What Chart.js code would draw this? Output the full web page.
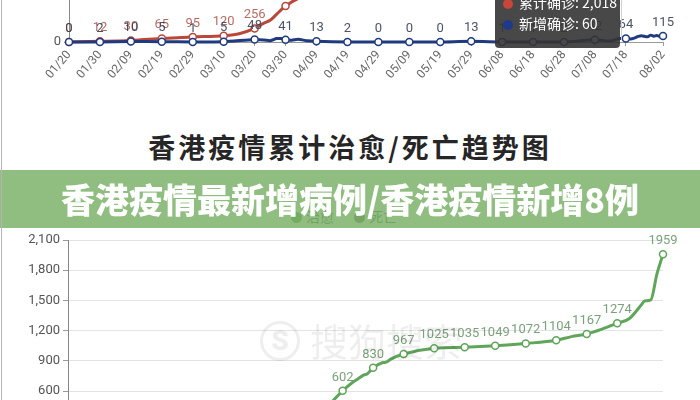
<!DOCTYPE html>
<html><head><meta charset="utf-8">
<script src="https://cdn.jsdelivr.net/npm/chart.js@4.4.1/dist/chart.umd.min.js"></script>
<style>
html,body{margin:0;padding:0;width:700px;height:400px;overflow:hidden;background:#fff;font-family:Roboto,"Noto Sans CJK SC",sans-serif;}
#wrap{position:relative;width:700px;height:400px;overflow:hidden;background:#fff;}
#leftline{position:absolute;left:1px;top:0;width:1px;height:400px;background:#b5b5b5;z-index:5;}
#topBox{position:absolute;left:0;top:-198px;width:700px;height:300px;}
#botBox{position:absolute;left:0;top:200px;width:700px;height:330px;}
#title{position:absolute;left:0;width:700px;top:127px;text-align:center;font-family:"Noto Sans CJK SC";font-weight:700;font-size:27px;letter-spacing:3px;color:#262626;line-height:40px;}
#legend{position:absolute;top:207px;left:0;width:700px;height:20px;font-family:"Noto Sans CJK SC";font-size:14px;color:#666;}
.lg{position:absolute;top:0;line-height:18px;}
.dot{display:inline-block;width:11px;height:11px;border-radius:50%;vertical-align:-1px;margin-right:4px;}
#banner{position:absolute;left:0;top:170px;width:700px;height:58px;background:rgba(118,176,100,0.82);z-index:4;}
#bannerText{position:absolute;left:0;top:170px;width:700px;height:58px;line-height:58px;text-align:center;color:#fff;font-family:"Noto Sans CJK SC";font-weight:900;font-size:34px;z-index:6;}
#tip{position:absolute;left:495px;top:-10px;width:125px;height:58px;background:rgba(52,52,52,0.9);border-radius:4px;z-index:3;color:#fff;font-family:"Noto Sans CJK SC";font-size:14px;}
#tip .row{position:absolute;left:8px;white-space:nowrap;line-height:18px;}
#tip .d{display:inline-block;width:10px;height:10px;border-radius:50%;margin-right:6px;vertical-align:-1px;}
#pointer{position:absolute;left:621px;top:0;width:1px;height:40px;background:#d0d0d0;z-index:2;}
#wm{position:absolute;left:260px;top:321px;z-index:2;color:rgba(0,0,0,0.065);font-family:"Noto Sans CJK SC";font-size:38px;line-height:38px;white-space:nowrap;}
#wm .s{display:inline-block;width:34px;height:34px;border:3px solid rgba(0,0,0,0.065);border-radius:50%;text-align:center;font-family:Roboto;font-weight:900;font-size:28px;line-height:34px;margin-right:10px;vertical-align:top;}
</style></head>
<body>
<div id="wrap">
  <div id="topBox"><canvas id="topChart"></canvas></div>
  <div id="pointer"></div>
  <div id="tip">
    <div class="row" style="top:3px"><span class="d" style="background:#c8463a"></span>累计确诊: 2,018</div>
    <div class="row" style="top:24px"><span class="d" style="background:#1f3a8a"></span>新增确诊: 60</div>
  </div>
  <div id="title">香港疫情累计治愈/死亡趋势图</div>
  <div id="legend">
    <div class="lg" style="left:291px"><span class="dot" style="background:#5aa552"></span>治愈</div>
    <div class="lg" style="left:354px"><span class="dot" style="background:#777"></span>死亡</div>
  </div>
  <div id="banner"></div>
  <div id="bannerText">香港疫情最新增病例/香港疫情新增8例</div>
  <div id="botBox"><canvas id="botChart"></canvas></div>
  <div id="wm"><span class="s">S</span>搜狗搜索</div>
  <div id="leftline"></div>
</div>
<script>
// ---- Top chart data (累计确诊 / 新增确诊) ----
const topTickIdx = [0,10,20,30,40,50,60,70,80,90,100,110,120,130,140,150,160,170,180,192];
const topTickLabels = ['01/20','01/30','02/09','02/19','02/29','03/10','03/20','03/30','04/09','04/19','04/29','05/09','05/19','05/29','06/08','06/18','06/28','07/08','07/18','08/02'];
const cumIdx  = [0,10,20,30,40,50,55,60,63,65,67,70,80,90,100,110,120,130,140,150,160,170,175,180,185,192];
const cumVals = [0,12,30,65,95,120,157,256,357,410,518,682,960,1026,1038,1044,1055,1080,1107,1131,1200,1366,1655,1886,2250,3272];
const newIdx  = [0,10,20,30,40,50,60,63,65,66,67,68,69,70,72,74,77,80,90,100,110,120,130,140,150,160,170,175,178,180,182,184,185,187,188,189,190,191,192];
const newVals = [0,2,10,5,1,5,48,39,24,43,65,65,64,41,32,51,24,13,2,0,0,0,13,1,1,2,42,19,67,64,60,105,120,100,130,110,125,100,115];

// ---- Bottom chart data (治愈 / 死亡) ----
const botTickIdx = [0,10,20,30,40,50,60,70,80,90,100,110,120,130,140,150,160,170,180,195];
const botTickLabels = ['01/20','01/30','02/09','02/19','02/29','03/10','03/20','03/30','04/09','04/19','04/29','05/09','05/19','05/29','06/08','06/18','06/28','07/08','07/18','08/02'];
const recIdx  = [0,10,20,30,40,50,60,70,80,90,93,95,97,98,100,103,104,106,110,120,130,140,150,160,165,170,175,180,184,188,189,191,193,195];
const recVals = [0,0,0,2,36,60,96,133,297,602,680,720,760,770,830,880,884,920,967,1025,1035,1049,1072,1104,1140,1167,1215,1274,1320,1460,1495,1505,1760,1959];
const deathIdx  = botTickIdx;
const deathVals = [0,0,0,1,2,2,4,4,4,4,4,4,4,4,4,4,6,7,11,27];

function pts(ix, vs){ return ix.map((x,i)=>({x:x, y:vs[i]})); }
function markerFlags(ix, ticks){ return ix.map(x=>ticks.indexOf(x)>=0); }
function radii(flags){ return flags.map(f=>f?3.5:0); }

function makeLabelPlugin(cfgs){
  return {
    id:'valueLabels',
    afterDatasetsDraw(chart){
      const ctx = chart.ctx;
      cfgs.forEach(c=>{
        const meta = chart.getDatasetMeta(c.ds);
        ctx.save();
        ctx.font = '13px Roboto';
        ctx.fillStyle = c.color;
        ctx.textAlign = 'center';
        ctx.textBaseline = 'middle';
        meta.data.forEach((p,i)=>{
          if(!c.flags[i]) return;
          ctx.fillText(String(chart.data.datasets[c.ds].data[i].y), p.x, p.y - 13.5);
        });
        ctx.restore();
      });
    }
  };
}

Chart.defaults.font.family = 'Roboto, "Noto Sans CJK SC", sans-serif';
Chart.defaults.animation = false;

// Top chart
const newFlags = markerFlags(newIdx, topTickIdx);
const cumFlags = markerFlags(cumIdx, topTickIdx);
new Chart(document.getElementById('topChart'), {
  type:'line',
  data:{datasets:[
    {label:'新增确诊', data:pts(newIdx,newVals), borderColor:'#1f3a7e', borderWidth:3, tension:0.25,
     pointRadius:radii(newFlags), pointBackgroundColor:'#fff', pointBorderColor:'#1f3a7e', pointBorderWidth:1.5, order:0, clip:false},
    {label:'累计确诊', data:pts(cumIdx,cumVals), borderColor:'#b9473a', borderWidth:3, cubicInterpolationMode:'monotone',
     pointRadius:radii(cumFlags), pointBackgroundColor:'#fff', pointBorderColor:'#b9473a', pointBorderWidth:1.5, order:1, clip:false}
  ]},
  options:{
    responsive:true, maintainAspectRatio:false, events:[],
    layout:{padding:{top:55,right:37,left:0,bottom:0}},
    plugins:{legend:{display:false}, tooltip:{enabled:false}},
    scales:{
      x:{type:'linear', min:0, max:192,
        afterBuildTicks:(s)=>{ s.ticks = topTickIdx.map(v=>({value:v})); },
        afterFit:(s)=>{ s.height = 60; },
        ticks:{autoSkip:false, minRotation:50, maxRotation:50, color:'#666', font:{size:12}, padding:2,
          callback:(v)=>{ const k=topTickIdx.indexOf(v); return k>=0?topTickLabels[k]:''; }},
        grid:{drawOnChartArea:false, drawTicks:true, tickLength:4, color:'#999'},
        border:{display:true, color:'#999'}
      },
      y:{min:0, max:3500,
        afterFit:(s)=>{ s.width = 69; },
        ticks:{stepSize:1000, color:'#555', font:{size:13}, padding:3},
        grid:{drawOnChartArea:false, tickLength:5, color:'#999'},
        border:{display:true, color:'#888'}
      }
    }
  },
  plugins:[makeLabelPlugin([{ds:1,flags:cumFlags,color:'rgba(170,80,70,0.85)'},{ds:0,flags:newFlags,color:'rgba(55,65,85,0.9)'}])]
});

// Bottom chart
const recFlags = markerFlags(recIdx, botTickIdx);
const deathFlags = markerFlags(deathIdx, botTickIdx);
new Chart(document.getElementById('botChart'), {
  type:'line',
  data:{datasets:[
    {label:'治愈', data:pts(recIdx,recVals), borderColor:'#5fa55a', borderWidth:3, cubicInterpolationMode:'monotone',
     pointRadius:radii(recFlags), pointBackgroundColor:'#fff', pointBorderColor:'#5fa55a', pointBorderWidth:1.5, clip:false},
    {label:'死亡', data:pts(deathIdx,deathVals), borderColor:'#777', borderWidth:3, cubicInterpolationMode:'monotone',
     pointRadius:radii(deathFlags), pointBackgroundColor:'#fff', pointBorderColor:'#777', pointBorderWidth:1.5, clip:false}
  ]},
  options:{
    responsive:true, maintainAspectRatio:false, events:[],
    layout:{padding:{top:40,right:37,left:0,bottom:0}},
    plugins:{legend:{display:false}, tooltip:{enabled:false}},
    scales:{
      x:{type:'linear', min:0, max:195,
        afterBuildTicks:(s)=>{ s.ticks = botTickIdx.map(v=>({value:v})); },
        afterFit:(s)=>{ s.height = 78.6; },
        ticks:{autoSkip:false, minRotation:50, maxRotation:50, color:'#666', font:{size:12}, padding:2,
          callback:(v)=>{ const k=botTickIdx.indexOf(v); return k>=0?botTickLabels[k]:''; }},
        grid:{drawOnChartArea:false, drawTicks:true, tickLength:4, color:'#999'},
        border:{display:true, color:'#999'}
      },
      y:{min:0, max:2100,
        afterFit:(s)=>{ s.width = 68; },
        ticks:{stepSize:300, color:'#555', font:{size:13}, padding:3},
        grid:{color:'#e3e3e3', tickLength:5, tickColor:'#999'},
        border:{display:true, color:'#888'}
      }
    }
  },
  plugins:[makeLabelPlugin([{ds:0,flags:recFlags,color:'rgba(110,150,110,0.9)'},{ds:1,flags:deathFlags,color:'rgba(120,120,120,0.9)'}])]
});
</script>
</body></html>
